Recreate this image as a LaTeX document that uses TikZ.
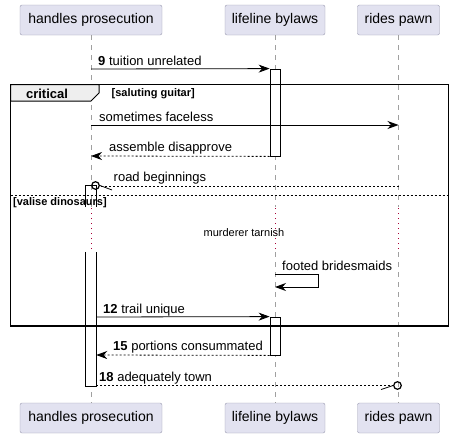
\documentclass[tikz,border=0pt]{standalone}
\usepackage{fontspec}
\setmainfont{Liberation Sans}
\usetikzlibrary{arrows.meta}
\definecolor{boxfill}{HTML}{E2E2F0}
\definecolor{boxline}{HTML}{9A9AB0}
\definecolor{lifegray}{HTML}{A0A0A0}
\definecolor{delayred}{HTML}{A80036}
\definecolor{tabfill}{HTML}{EEEEEE}
\tikzset{
  party/.style={draw=boxline, fill=boxfill, rounded corners=2pt, minimum height=30pt,
    inner sep=0pt, font=\fontsize{14}{16}\selectfont},
  life/.style={draw=lifegray, line width=0.7pt, dash pattern=on 5pt off 5pt},
  delay/.style={draw=delayred, line width=1pt, dash pattern=on 1pt off 4pt},
  msg/.style={-{Stealth[length=11pt,width=8pt,inset=3.5pt]}, line width=0.8pt},
  ret/.style={msg, dash pattern=on 2pt off 2pt},
  lbl/.style={anchor=base west, inner sep=0pt, font=\fontsize{13}{15}\selectfont},
  grd/.style={anchor=base west, inner sep=0pt, font=\fontsize{11}{13}\selectfont\bfseries},
  act/.style={draw, fill=white, line width=0.8pt, inner sep=0pt, minimum width=10pt},
}
\begin{document}
\begin{tikzpicture}[x=1pt, y=-1pt]
\useasboundingbox (0,0) rectangle (455,439);
% participants
\node[party, minimum width=142pt] (hpTop) at (91,20) {handles prosecution};
\node[party, minimum width=100pt] (lbTop) at (275,20) {lifeline bylaws};
\node[party, minimum width=82pt]  (rpTop) at (398.5,20) {rides pawn};
\node[party, minimum width=142pt] (hpBot) at (91,418) {handles prosecution};
\node[party, minimum width=100pt] (lbBot) at (275,418) {lifeline bylaws};
\node[party, minimum width=82pt]  (rpBot) at (398.5,418) {rides pawn};
% lifelines, broken by the delay
\foreach \p in {hp,lb,rp}
{\draw[life] (\p Top) -- (\p Top |- 0,207);
 \draw[delay] (\p Top |- 0,208) -- (\p Top |- 0,250);
 \draw[life] (\p Top |- 0,252) -- (\p Bot);}
% activations
\node[act, minimum height=87pt] (lbActA) at (275,112.5) {};
\node[act, minimum height=38pt] (lbActB) at (275,336) {};
\node[inner sep=0pt, minimum width=10pt, minimum height=21pt] (hpActA) at (91,196.5) {};
\node[fill=white, inner sep=0pt, minimum width=10pt, minimum height=134pt] (hpActB) at (91,319) {};
\draw[line width=0.8pt] (hpActA.south west) -- (hpActA.north west) -- (hpActA.north east) -- (hpActA.south east);
\draw[line width=0.8pt] (hpActB.north west) -- (hpActB.south west) -- (hpActB.south east) -- (hpActB.north east);
% critical frame
\draw[line width=1.5pt] (10.5,84.5) rectangle (448.5,326);
\draw[line width=1pt, fill=tabfill] (10.5,84.5) -- (99,84.5) -- (99,93) -- (91,101) -- (10.5,101) -- cycle;
\node[anchor=base, inner sep=0pt, font=\fontsize{13}{15}\selectfont\bfseries] (critLbl) at (47,98) {critical};
\node[grd] (grdA) at (111.5,96) {[saluting guitar]};
\draw[line width=0.8pt, dash pattern=on 2pt off 2pt] (10.5,195.5) -- (448.5,195.5);
\node[grd] (grdB) at (13,205) {[valise dinosaurs]};
\node[anchor=base, inner sep=0pt, font=\fontsize{11}{13}\selectfont] (delayLbl) at (244,236) {murderer tarnish};
% messages
\draw[msg] (hpTop |- 0,69) -- (lbActA.north west);
\node[lbl] (m1) at (98,65) {\textbf{9} tuition unrelated};
\draw[msg] (hpTop |- 0,125) -- (rpTop |- 0,125);
\node[lbl] (m2) at (99,121) {sometimes faceless};
\draw[ret] (lbActA.south west) -- (hpTop |- 0,156);
\node[lbl] (m3) at (109,151) {assemble disapprove};
\draw[line width=0.8pt, dash pattern=on 2pt off 2pt] (rpTop |- 0,186) -- (99.5,186);
\draw[line width=1.2pt] (95.5,185.5) circle (3.8);
\draw[line width=0.8pt] (100,185.5) -- (112,190);
\node[lbl] (m4) at (113.5,181.5) {road beginnings};
\draw[msg] (lbTop |- 0,274) -- (318,274) -- (318,287) -- (lbTop |- 0,287);
\node[lbl] (m5) at (282,270) {footed bridesmaids};
\draw[msg] (hpActB.east |- 0,317) -- (lbActB.north west);
\node[lbl] (m6) at (103,313) {\textbf{12} trail unique};
\draw[ret] (lbActB.south west) -- (hpActB.east |- 0,355);
\node[lbl] (m7) at (113,350) {\textbf{15} portions consummated};
\draw[line width=0.8pt, dash pattern=on 2pt off 2pt] (hpActB.east |- 0,385.5) -- (393,385.5);
\draw[line width=1.2pt] (397.5,385.5) circle (3.8);
\draw[line width=0.8pt] (381,389.5) -- (393,385.5);
\node[lbl] (m8) at (99,381) {\textbf{18} adequately town};
\end{tikzpicture}
\end{document}
